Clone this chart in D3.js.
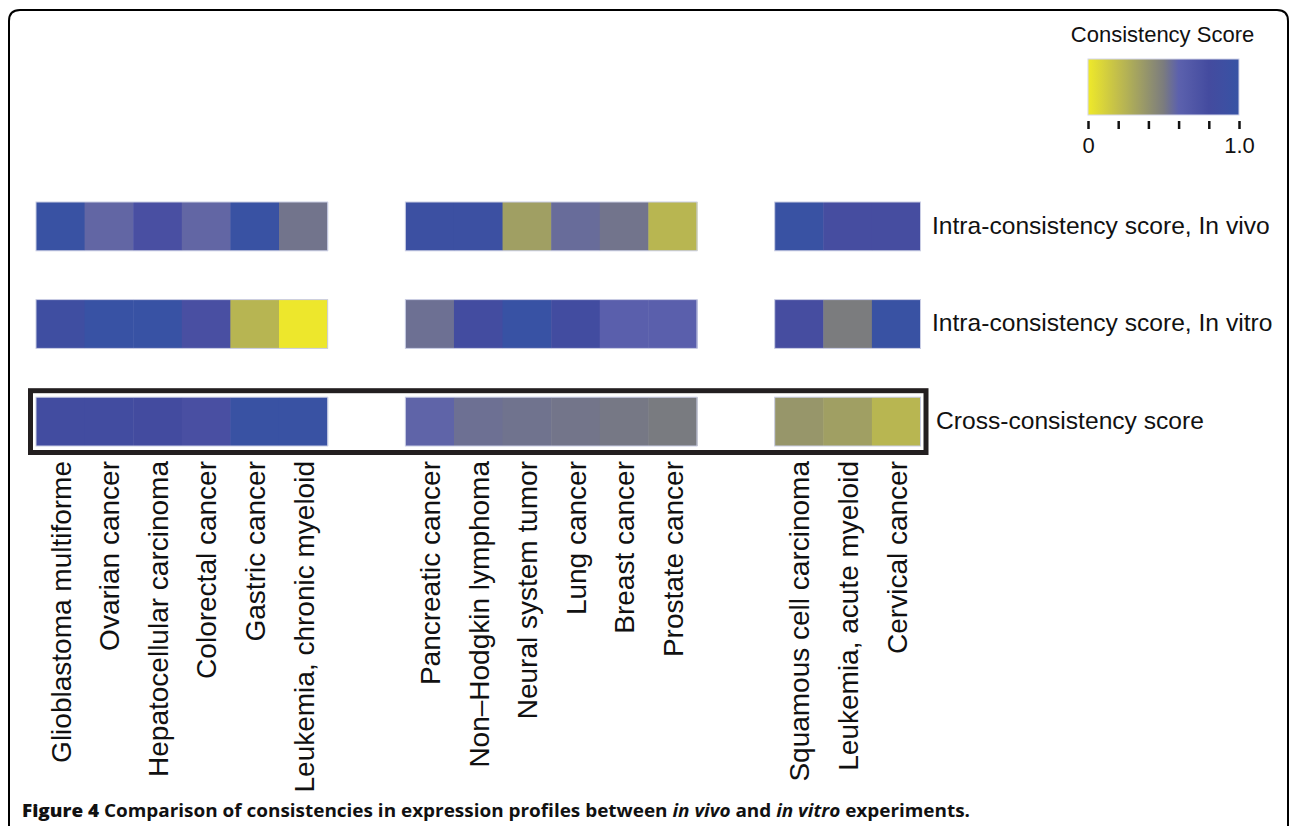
<!DOCTYPE html>
<html>
<head>
<meta charset="utf-8">
<script src="https://cdn.jsdelivr.net/npm/d3@7"></script>
<style>
  body { margin: 0; background: #fff; }
  svg text { font-family: "Liberation Sans", Arial, sans-serif; fill: #111; }
  .caption text, text.caption { font-family: "Open Sans", "Noto Sans", sans-serif; }
</style>
</head>
<body>
<div id="chart"></div>
<script>
// ---- data ----
const groups = ["g1", "g2", "g3"];
const cancers = [
    "Glioblastoma multiforme", "Ovarian cancer", "Hepatocellular carcinoma", "Colorectal cancer",
    "Gastric cancer", "Leukemia, chronic myeloid",
    "Pancreatic cancer", "Non\u2013Hodgkin lymphoma", "Neural system tumor", "Lung cancer",
    "Breast cancer", "Prostate cancer",
    "Squamous cell carcinoma", "Leukemia, acute myeloid", "Cervical cancer"
];
const cancerGroup = [0, 0, 0, 0, 0, 0, 1, 1, 1, 1, 1, 1, 2, 2, 2];
const rowLabels = ["Intra-consistency score, In vivo", "Intra-consistency score, In vitro", "Cross-consistency score"];

const inVivo  = [0.97, 0.58, 0.76, 0.58, 0.97, 0.53, 0.93, 0.93, 0.34, 0.56, 0.53, 0.235, 0.97, 0.78, 0.78];
const inVitro = [0.88, 0.98, 0.98, 0.76, 0.24, 0.01, 0.545, 0.82, 0.98, 0.83, 0.62, 0.62, 0.78, 0.50, 0.97];
const cross   = [0.83, 0.83, 0.81, 0.76, 0.97, 0.97, 0.59, 0.545, 0.535, 0.525, 0.515, 0.505, 0.38, 0.34, 0.235];

const legendTicks = [0, 0.2, 0.4, 0.6, 0.8, 1.0];
const legendTickLabels = {0: "0", 1: "1.0"};

// colour stops of the consistency score scale
const colorStops = [0, 0.5, 0.6, 0.8, 1];
const colorRange = ["#efe92a", "#7b7c7e", "#5c61ad", "#444b9f", "#3753a4"];

const W = 1290, H = 826;

let svg = d3.select("#chart").append("svg")
    .attr("width", W)
    .attr("height", H);

let color = d3.scaleLinear()
    .domain(colorStops)
    .range(colorRange)
    .interpolate(d3.interpolateRgb);

// frame with rounded top corners
svg.append("path")
    .attr("d", "M9,830 L9,21 Q9,10 20,10 L1277,10 Q1288,10 1288,21 L1288,830")
    .attr("fill", "none")
    .attr("stroke", "#000")
    .attr("stroke-width", 2);

// ---- scales ----
// column slot: each group takes 6 slots plus a gap of 1.6 slots
let slotOf = (i) => {
    let g = cancerGroup[i];
    let start = cancerGroup.indexOf(g);
    return g * 7.6 + (i - start);
};
let x = d3.scaleLinear()
    .domain([0, 18.2])
    .range([36, 920.5]);
let cellW = x(1) - x(0);

let y = d3.scaleBand()
    .domain(rowLabels)
    .range([202, 446])
    .paddingInner(0.5);

let rows = [inVivo, inVitro, cross];

// box around the cross-consistency row
svg.append("rect")
    .attr("x", x(0) - 5.5)
    .attr("y", y(rowLabels[2]) - 6.5)
    .attr("width", x(18.2) - x(0) + 11)
    .attr("height", y.bandwidth() + 13)
    .attr("fill", "none")
    .attr("stroke", "#231f20")
    .attr("stroke-width", 5);

rows.forEach((vals, r) => {
    let g = svg.append("g").attr("class", "row");
    g.selectAll("rect")
        .data(vals)
        .enter()
        .append("rect")
        .attr("x", (d, i) => x(slotOf(i)))
        .attr("y", y(rowLabels[r]))
        .attr("width", cellW + 0.5)
        .attr("height", y.bandwidth())
        .attr("fill", d => color(d));

    // faint outline around each group of cells
    groups.forEach((grp, gi) => {
        let idx = cancerGroup.map((c, i) => c === gi ? i : -1).filter(i => i >= 0);
        g.append("rect")
            .attr("x", x(slotOf(idx[0])))
            .attr("y", y(rowLabels[r]))
            .attr("width", cellW * idx.length)
            .attr("height", y.bandwidth())
            .attr("fill", "none")
            .attr("stroke", "#c9cde4")
            .attr("stroke-width", 1);
    });

    svg.append("text")
        .attr("x", r === 2 ? 936 : 932)
        .attr("y", y(rowLabels[r]) + y.bandwidth() / 2)
        .attr("dy", "0.3em")
        .style("font-size", "24.6px")
        .text(rowLabels[r]);
});

// column labels
svg.append("g")
    .selectAll("text")
    .data(cancers)
    .enter()
    .append("text")
    .attr("transform", (d, i) => `translate(${x(slotOf(i)) + cellW / 2}, 461) rotate(-90)`)
    .attr("dy", "0.37em")
    .attr("text-anchor", "end")
    .style("font-size", "28px")
    .text(d => d);

// ---- legend ----
let lx = d3.scaleLinear().domain([0, 1]).range([1088, 1239]);

let defs = svg.append("defs");
let grad = defs.append("linearGradient")
    .attr("id", "scoreGrad")
    .attr("x1", "0%").attr("x2", "100%")
    .attr("y1", "0%").attr("y2", "0%");
grad.selectAll("stop")
    .data(d3.range(0, 1.0001, 0.05))
    .enter()
    .append("stop")
    .attr("offset", d => (d * 100) + "%")
    .attr("stop-color", d => color(d));

svg.append("text")
    .attr("x", (lx(0) + lx(1)) / 2 - 1)
    .attr("y", 42)
    .attr("text-anchor", "middle")
    .style("font-size", "22px")
    .text("Consistency Score");

svg.append("rect")
    .attr("x", lx(0))
    .attr("y", 59)
    .attr("width", lx(1) - lx(0))
    .attr("height", 56)
    .attr("fill", "url(#scoreGrad)")
    .attr("stroke", "#d4d6ea")
    .attr("stroke-width", 1);

let legendAxis = svg.append("g")
    .attr("transform", "translate(0,121)")
    .call(d3.axisBottom(lx)
        .tickValues(legendTicks)
        .tickSize(8)
        .tickPadding(8)
        .tickFormat(d => legendTickLabels[d] || ""));
legendAxis.select(".domain").remove();
legendAxis.selectAll(".tick line")
    .attr("stroke", "#111")
    .attr("stroke-width", 2.5);
legendAxis.selectAll(".tick text")
    .style("font-family", "'Liberation Sans', Arial, sans-serif")
    .style("font-size", "22px")
    .attr("fill", "#111");

// ---- caption ----
let cap = svg.append("text")
    .attr("class", "caption")
    .attr("x", 22)
    .attr("y", 817)
    .style("font-size", "17px")
    .style("font-weight", "bold")
    .attr("textLength", 948)
    .attr("lengthAdjust", "spacingAndGlyphs");
cap.append("tspan").style("font-weight", "800").text("Figure 4 ");
cap.append("tspan").text("Comparison of consistencies in expression profiles between ");
cap.append("tspan").style("font-style", "italic").text("in vivo");
cap.append("tspan").text(" and ");
cap.append("tspan").style("font-style", "italic").text("in vitro");
cap.append("tspan").text(" experiments.");
</script>
</body>
</html>
